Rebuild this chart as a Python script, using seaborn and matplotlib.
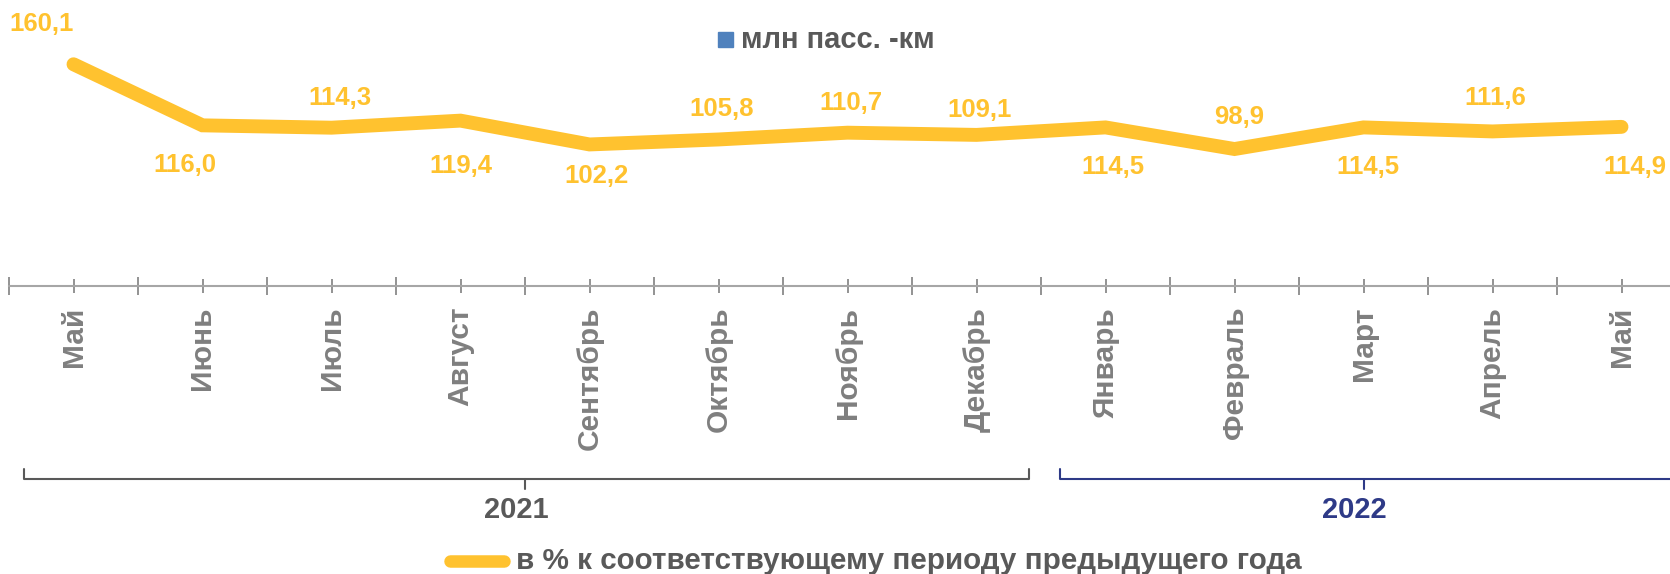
import numpy as np
import pandas as pd
import seaborn as sns
import matplotlib.pyplot as plt
from matplotlib.lines import Line2D
from matplotlib.patches import Rectangle
import matplotlib.transforms as mtransforms

# data
months = ['Май', 'Июнь', 'Июль', 'Август', 'Сентябрь', 'Октябрь', 'Ноябрь',
          'Декабрь', 'Январь', 'Февраль', 'Март', 'Апрель', 'Май']
pct = [160.1, 116.0, 114.3, 119.4, 102.2, 105.8, 110.7, 109.1, 114.5, 98.9, 114.5, 111.6, 114.9]
years = ['2021', '2022']
year_span = [(0, 7), (8, 12)]
series_bar = 'млн пасс. -км'
series_line = 'в % к соответствующему периоду предыдущего года'

# label offsets in pixels (dx, dy)
lab_dx = [-32, -18, 8, 0, 7, 3, 3, 3, 7, 5, 4, 3, 13]
lab_dy = [40, -40, 30, -45, -32, 30, 30, 25, -40, 32, -40, 33, -40]

YELLOW = '#FFC22F'
GRAY = '#7F7F7F'
DARK = '#595959'
NAVY = '#2E3A87'

sns.set_style('white')
plt.rcParams['font.family'] = ['Liberation Sans', 'DejaVu Sans']

df = pd.DataFrame({'pos': np.arange(len(months)), 'pct': pct})

fig = plt.figure(figsize=(16.7, 5.74), dpi=100)
ax = fig.add_axes([9 / 1670, 1 - 286 / 574, 1677 / 1670, 277 / 574])

sns.lineplot(data=df, x='pos', y='pct', ax=ax, color=YELLOW, linewidth=10,
             solid_capstyle='round', solid_joinstyle='miter')

for i, v in enumerate(pct):
    ax.annotate(f'{v:.1f}'.replace('.', ','), (i, v), xytext=(lab_dx[i], lab_dy[i]),
                textcoords='offset pixels', ha='center', va='center',
                fontsize=18.5, fontweight='bold', color=YELLOW)

ax.set_xlim(-0.5, len(months) - 0.5)
ax.set_ylim(0, 200)
ax.set_xlabel('')
ax.set_ylabel('')
ax.set_yticks([])
ax.set_xticks(range(len(months)))
ax.set_xticklabels(months, rotation=90, fontsize=21.5, fontweight='bold', color=GRAY)
ax.set_xticks(np.arange(-0.5, len(months)), minor=True)
ax.tick_params(axis='x', which='both', bottom=True)
ax.tick_params(axis='x', which='major', direction='inout', length=10, width=1.2,
               color='#808080', pad=10)
ax.tick_params(axis='x', which='minor', direction='inout', length=13, width=1.2,
               color='#808080')
for s in ['left', 'top', 'right']:
    ax.spines[s].set_visible(False)
ax.spines['bottom'].set_color('#A6A6A6')
ax.spines['bottom'].set_linewidth(1.5)

# year brackets below the axis
tr = mtransforms.blended_transform_factory(ax.transData, fig.transFigure)
yb = 1 - 479 / 574
hook = 10 / 574
bracket_ends = [(-0.38, 7.41), (7.65, 12.6)]
for (a, b), (x0, x1), yr, col in zip(year_span, bracket_ends, years, [DARK, NAVY]):
    xc = (a + b) / 2
    ax.plot([x0, x0, x1, x1], [yb + hook, yb, yb, yb + hook], transform=tr,
            color=col, lw=1.5, clip_on=False)
    ax.plot([xc, xc], [yb, yb - hook], transform=tr, color=col, lw=1.5, clip_on=False)
    ax.text(xc - 0.07, 1 - 510 / 574, yr, transform=tr, ha='center', va='center',
            fontsize=21, fontweight='bold', color=col)

# top legend (bar series)
fig.add_artist(Rectangle((718 / 1670, 1 - 47 / 574), 15 / 1670, 15 / 574,
                         transform=fig.transFigure, color='#4F81BD'))
fig.text(741 / 1670, 1 - 40 / 574, series_bar, ha='left', va='center',
         fontsize=21, fontweight='bold', color=DARK)

# bottom legend (line series)
fig.add_artist(Line2D([450 / 1670, 504 / 1670], [1 - 561 / 574, 1 - 561 / 574],
                      transform=fig.transFigure, color=YELLOW, lw=9,
                      solid_capstyle='round'))
fig.text(516 / 1670, 1 - 561 / 574, series_line, ha='left', va='center',
         fontsize=21.3, fontweight='bold', color=DARK)

fig.savefig('out.png', dpi=100)
